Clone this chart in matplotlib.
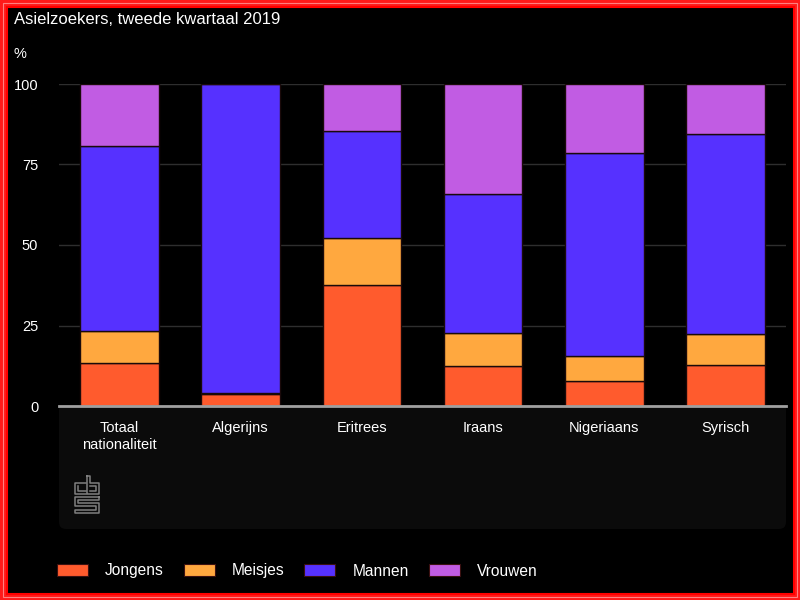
import matplotlib
matplotlib.use('Agg')
import matplotlib.pyplot as plt
from matplotlib.patches import Rectangle, FancyBboxPatch, Patch
from matplotlib.lines import Line2D
from matplotlib.transforms import Affine2D
import numpy as np

categories = ['Totaal\nnationaliteit', 'Algerijns', 'Eritrees', 'Iraans', 'Nigeriaans', 'Syrisch']
series_names = ['Jongens', 'Meisjes', 'Mannen', 'Vrouwen']
jongens = [13.4, 3.8, 37.6, 12.4, 7.9, 12.8]
meisjes = [9.9, 0.2, 14.5, 10.4, 7.5, 9.6]
mannen = [57.4, 96.0, 33.3, 43.1, 63.3, 62.2]
vrouwen = [19.3, 0.0, 14.6, 34.1, 21.3, 15.4]
colors = ['#ff5b2d', '#ffa83f', '#5631ff', '#c15ce3']
yticks = [0, 25, 50, 75, 100]

plt.rcParams['font.family'] = ['Liberation Sans', 'DejaVu Sans']

fig = plt.figure(figsize=(8, 6), dpi=100, facecolor='black')
# pixel coordinates, origin top-left
px = Affine2D().scale(1 / 800, -1 / 600).translate(0, 1) + fig.transFigure

# dark panel below the plot
fig.patches.append(FancyBboxPatch((59, 400), 727, 129, boxstyle='round,pad=0,rounding_size=7',
                                  transform=px, facecolor='#0b0b0b', edgecolor='none', zorder=-5))

ax = fig.add_axes([59 / 800, 1 - 406 / 600, 727 / 800, 322 / 600])
ax.set_facecolor('black')
x = np.arange(len(categories))
bottom = np.zeros(len(categories))
for name, vals, c in zip(series_names, [jongens, meisjes, mannen, vrouwen], colors):
    ax.bar(x, vals, bottom=bottom, width=0.65, color=c, edgecolor='#1a0a0a', linewidth=1, label=name, zorder=3)
    bottom += np.array(vals)

ax.set_xlim(-0.5, len(categories) - 0.5)
ax.set_ylim(0, 100)
ax.set_yticks(yticks)
ax.grid(axis='y', color='#2e2e2e', linewidth=1, zorder=0)
ax.set_axisbelow(True)
for s in ['top', 'right', 'left']:
    ax.spines[s].set_visible(False)
ax.spines['bottom'].set_color('#a0a0a0')
ax.spines['bottom'].set_linewidth(2)
ax.spines['bottom'].set_zorder(4)
ax.set_xticks(x)
ax.set_xticklabels(categories, fontsize=10.5, color='white', linespacing=1.35)
ax.tick_params(axis='x', length=0, pad=10.5)
ax.tick_params(axis='y', length=0, pad=15, labelsize=10.5, labelcolor='white')

fig.text(14, 20, 'Asielzoekers, tweede kwartaal 2019', transform=px, color='white',
         fontsize=12, ha='left', va='center')
fig.text(14, 54, '%', transform=px, color='white', fontsize=10.5, ha='left', va='center')

# cbs logo (simple outline)
logo_col = '#808080'
logo_paths = [
    [(86, 483), (75, 483), (75, 494), (86, 494)],
    [(78, 486), (78, 491), (86, 491)],
    [(87, 476), (87, 494), (99, 494), (99, 483), (90, 483), (90, 476), (87, 476)],
    [(90, 486), (96, 486), (96, 491), (90, 491)],
    [(99, 497), (75, 497), (75, 506), (96, 506), (96, 510), (75, 510), (75, 513), (99, 513), (99, 503), (78, 503), (78, 500), (99, 500), (99, 497)],
]
for p in logo_paths:
    xs, ys = zip(*p)
    fig.add_artist(Line2D(xs, ys, transform=px, color=logo_col, linewidth=1.1))

handles = [Patch(facecolor=c, edgecolor='#3a1010', linewidth=0.8) for c in colors]
fig.legend(handles, series_names, loc='center left', bbox_to_anchor=(50.5 / 800, 1 - 571 / 600),
           ncol=4, frameon=False, fontsize=11.2, labelcolor='white', handlelength=2.0,
           handleheight=0.85, handletextpad=1.08, columnspacing=1.3, borderaxespad=0)

# red double border
fig.patches.append(Rectangle((3, 3), 794, 594, transform=px, fill=False, edgecolor='#ff1a1a', linewidth=4.5))
fig.patches.append(Rectangle((3, 3), 794, 594, transform=px, fill=False, edgecolor='#ff8080', linewidth=0.8))
fig.patches.append(Rectangle((6.5, 6.5), 787, 587, transform=px, fill=False, edgecolor='#ff0000', linewidth=1.5))

fig.savefig('out.png', dpi=100, facecolor='black')
